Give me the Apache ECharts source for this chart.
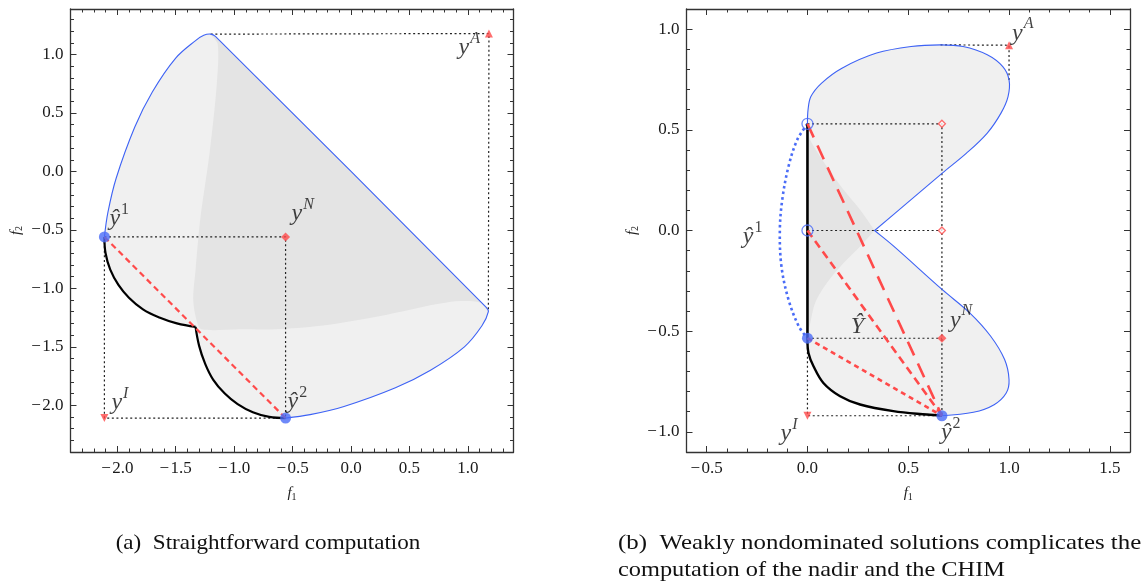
<!DOCTYPE html>
<html>
<head>
<meta charset="utf-8">
<script src="https://cdn.jsdelivr.net/npm/echarts@6/dist/echarts.min.js"></script>
<style>
html,body{margin:0;padding:0;background:#fff;}
#chart{width:1143px;height:588px;}
</style>
</head>
<body>
<div id="chart"></div>
<script>
// ---------------- DATA ----------------
// Tick values
const leftMajorTicks = [-2.0, -1.5, -1.0, -0.5, 0.0, 0.5, 1.0];
const leftMinorTicks = [-2.4,-2.3,-2.2,-2.1,-2.0,-1.9,-1.8,-1.7,-1.6,-1.5,-1.4,-1.3,-1.2,-1.1,-1.0,-0.9,-0.8,-0.7,-0.6,-0.5,-0.4,-0.3,-0.2,-0.1,0.0,0.1,0.2,0.3,0.4,0.5,0.6,0.7,0.8,0.9,1.0,1.1,1.2,1.3];
const rightXMajorTicks = [-0.5, 0.0, 0.5, 1.0, 1.5];
const rightXMinorTicks = [-0.6,-0.5,-0.4,-0.3,-0.2,-0.1,0.0,0.1,0.2,0.3,0.4,0.5,0.6,0.7,0.8,0.9,1.0,1.1,1.2,1.3,1.4,1.5,1.6];
const rightYMajorTicks = [-1.0, -0.5, 0.0, 0.5, 1.0];
const rightYMinorTicks = [-1.1,-1.0,-0.9,-0.8,-0.7,-0.6,-0.5,-0.4,-0.3,-0.2,-0.1,0.0,0.1,0.2,0.3,0.4,0.5,0.6,0.7,0.8,0.9,1.0,1.1];

// (a) Straightforward computation
const aHat1 = [-2.11, -0.56];
const aHat2 = [-0.56, -2.11];
const aNadir = [-0.56, -0.56];
const aIdeal = [-2.11, -2.11];
const aAnti = [1.18, 1.18];
const aPeak = [-1.20, 1.175];
const aRightmost = [1.175, -1.20];
const aOuterBoundary = [
  [-2.11,-0.56],[-2.08,-0.35],[-2.01,-0.06],[-1.85,0.38],[-1.70,0.68],[-1.50,0.97],
  [-1.33,1.12],[-1.26,1.165],[-1.20,1.175],[-1.16,1.155],
  [1.155,-1.16],[1.175,-1.20],[1.12,-1.32],[0.97,-1.50],[0.68,-1.70],[0.38,-1.85],
  [-0.06,-2.01],[-0.35,-2.08],[-0.56,-2.11]
];
const aFrontArc1 = [[-2.11,-0.56],[-2.10,-0.70],[-2.06,-0.84],[-1.99,-0.97],[-1.90,-1.08],[-1.78,-1.18],[-1.64,-1.25],[-1.49,-1.30],[-1.33,-1.33]];
const aFrontArc2 = [[-1.33,-1.33],[-1.30,-1.49],[-1.25,-1.64],[-1.18,-1.78],[-1.08,-1.90],[-0.97,-1.99],[-0.84,-2.06],[-0.70,-2.10],[-0.56,-2.11]];
const aDarkRegion = [
  [-1.20,1.175],[-1.14,1.09],[-1.15,0.73],[-1.21,0.16],[-1.29,-0.41],[-1.33,-0.84],[-1.35,-1.10],
  [-1.32,-1.28],[-1.28,-1.35],[-0.95,-1.35],[-0.65,-1.35],[-0.26,-1.32],[0.23,-1.24],[0.82,-1.12],
  [1.10,-1.12],[1.175,-1.20],[1.155,-1.16],[-1.16,1.155]
];

// (b) Weakly nondominated solutions
const bHat1 = [0, -0.535];
const bHat2 = [0.667, -0.92];
const bNadir = [0.667, -0.535];
const bIdeal = [0, -0.92];
const bAnti = [1.0, 0.92];
const bWeakTop = [0, 0.53];
const bWeakMid = [0, 0];
const bPseudoNadirTop = [0.667, 0.53];
const bPseudoNadirMid = [0.667, 0];
const bTopmost = [0.66, 0.922];
const bRightmostUpper = [1.0, 0.748];
const bOuterBoundary = [
  [0,0.53],[0.003,0.60],[0.017,0.665],[0.069,0.731],[0.171,0.806],[0.343,0.881],[0.514,0.914],
  [0.66,0.922],[0.772,0.914],[0.892,0.873],[0.969,0.814],[1.0,0.748],[0.995,0.665],[0.96,0.583],
  [0.892,0.484],[0.789,0.384],[0.669,0.285],[0.514,0.153],[0.333,0],[0.333,0],
  [0.429,-0.079],[0.669,-0.294],[0.806,-0.41],[0.909,-0.525],[0.978,-0.641],[1.0,-0.741],
  [0.986,-0.807],[0.926,-0.865],[0.823,-0.903],[0.667,-0.92]
];
const bFrontCurve = [[0,-0.535],[0.005,-0.608],[0.030,-0.674],[0.079,-0.757],[0.162,-0.823],[0.261,-0.864],[0.426,-0.897],[0.592,-0.914],[0.667,-0.92]];
const bWeakSegment = [[0,-0.535],[0,0.53]];
const bDottedArc = [[0,0.53],[-0.051,0.45],[-0.094,0.318],[-0.125,0.153],[-0.137,0],[-0.129,-0.178],[-0.094,-0.343],[-0.043,-0.476],[0,-0.535]];
const bDarkRegion = [
  [0,0.51],[0.013,0.451],[0.096,0.318],[0.179,0.202],[0.261,0.103],[0.333,0],[0.333,0],
  [0.261,-0.079],[0.179,-0.161],[0.096,-0.261],[0.038,-0.36],[0.010,-0.476],[0,-0.50]
];

// ---------------- STYLE ----------------
const FONT = "'Liberation Serif', 'Times New Roman', serif";
const RED = '#ff4a4a';
const BLUE = '#4a6cf7';
const LINE_BLUE = '#3d62f5';
const LIGHT = '#f0f0f0';
const DARK = '#e4e4e4';

function fmt(v){
  const s = (Math.round(v*10)/10).toFixed(1);
  return s.charAt(0) === '-' ? '\u2212\u200A' + s.slice(1) : s;
}

function makeAxes(dim, grid, min, max, major, minor, nameIdx){
  const isX = dim === 'x';
  const pos = isX ? ['bottom','top'] : ['left','right'];
  const common = {type:'value', gridIndex:grid, min:min, max:max, splitLine:{show:false}, splitArea:{show:false}};
  const frame = {color:'#333', width:1.3};
  const tickStyle = {color:'#333', width:1};
  return [
    Object.assign({}, common, {
      position:pos[0],
      axisLine:{show:true, onZero:false, lineStyle:frame},
      axisTick:{show:true, inside:true, length:6, customValues:major, lineStyle:tickStyle},
      axisLabel:{show:true, customValues:major, formatter:fmt, fontFamily:FONT, fontSize:17, color:'#1a1a1a', margin:isX?8:7},
      name:'{f|f}{s|' + nameIdx + '}',
      nameLocation:'middle', nameGap:isX?33:46, nameRotate:isX?0:90,
      nameTextStyle:{rich:{
        f:{fontFamily:FONT, fontStyle:'italic', fontSize:15, color:'#222'},
        s:{fontFamily:FONT, fontSize:10, color:'#222', padding:[7,0,0,0]}
      }}
    }),
    Object.assign({}, common, {
      position:pos[0],
      axisLine:{show:false, onZero:false},
      axisTick:{show:true, inside:true, length:3.5, customValues:minor, lineStyle:tickStyle},
      axisLabel:{show:false}
    }),
    Object.assign({}, common, {
      position:pos[1],
      axisLine:{show:true, onZero:false, lineStyle:frame},
      axisTick:{show:true, inside:true, length:6, customValues:major, lineStyle:tickStyle},
      axisLabel:{show:false}
    }),
    Object.assign({}, common, {
      position:pos[1],
      axisLine:{show:false, onZero:false},
      axisTick:{show:true, inside:true, length:3.5, customValues:minor, lineStyle:tickStyle},
      axisLabel:{show:false}
    })
  ];
}

const series = [];
function addPath(g, pts, style, closed, smooth){
  series.push({
    type:'custom', coordinateSystem:'cartesian2d',
    xAxisIndex:g*4, yAxisIndex:g*4, silent:true,
    data:[pts[0]],
    renderItem:function(params, api){
      return {
        type: closed ? 'polygon' : 'polyline',
        shape:{points: pts.map(function(q){return api.coord(q);}), smooth: smooth || 0},
        style: Object.assign(closed ? {stroke:'none'} : {fill:'none'}, style)
      };
    }
  });
}

const DOT = {stroke:'#222', lineWidth:1.2, lineDash:[2,2.6]};

// ---- (a) ----
addPath(0, aOuterBoundary.concat(aFrontArc2.slice().reverse(), aFrontArc1.slice().reverse()), {fill:LIGHT}, true, 0.35);
addPath(0, aDarkRegion, {fill:DARK}, true, 0.3);
addPath(0, [aHat1, aNadir, aHat2], DOT, false, 0);
addPath(0, [aHat1, aIdeal, aHat2], DOT, false, 0);
addPath(0, [aPeak, aAnti, aRightmost], DOT, false, 0);
addPath(0, aOuterBoundary, {stroke:LINE_BLUE, lineWidth:1.1}, false, 0.35);
addPath(0, aFrontArc1, {stroke:'#000', lineWidth:2.2}, false, 0.4);
addPath(0, aFrontArc2, {stroke:'#000', lineWidth:2.2}, false, 0.4);
addPath(0, [aHat1, aHat2], {stroke:RED, lineWidth:2.2, lineDash:[6,4]}, false, 0);

// ---- (b) ----
addPath(1, bOuterBoundary.concat(bFrontCurve.slice().reverse()), {fill:LIGHT}, true, 0.35);
addPath(1, bDarkRegion, {fill:DARK}, true, 0.3);
addPath(1, [bWeakTop, bPseudoNadirTop, bHat2], DOT, false, 0);
addPath(1, [bWeakMid, bPseudoNadirMid], DOT, false, 0);
addPath(1, [bHat1, bNadir], DOT, false, 0);
addPath(1, [bHat1, bIdeal, bHat2], DOT, false, 0);
addPath(1, [bTopmost, bAnti, bRightmostUpper], DOT, false, 0);
addPath(1, bOuterBoundary, {stroke:LINE_BLUE, lineWidth:1.1}, false, 0.35);
addPath(1, bDottedArc, {stroke:BLUE, lineWidth:2.6, lineDash:[2.6,3]}, false, 0.35);
addPath(1, bFrontCurve, {stroke:'#000', lineWidth:2.4}, false, 0.35);
addPath(1, bWeakSegment, {stroke:'#000', lineWidth:2.6}, false, 0);
addPath(1, [bWeakTop, bHat2], {stroke:RED, lineWidth:2.6, lineDash:[15,9]}, false, 0);
addPath(1, [bWeakMid, bHat2], {stroke:RED, lineWidth:2.6, lineDash:[8,5]}, false, 0);
addPath(1, [bHat1, bHat2], {stroke:RED, lineWidth:2.6, lineDash:[5,4]}, false, 0);

// ---- markers & labels ----
const rich = {
  m:{fontFamily:FONT, fontStyle:'italic', fontSize:24, color:'#111'},
  u:{fontFamily:FONT, fontSize:16, color:'#111', padding:[0,0,18,1]},
  i:{fontFamily:FONT, fontStyle:'italic', fontSize:16, color:'#111', padding:[0,0,18,1]}
};
function lbl(text, align, dx, dy){
  return {show:true, position:'inside', align:align, verticalAlign:'middle', offset:[dx,dy], formatter:text, rich:rich};
}
function pt(v, symbol, size, color, border, label, rotate){
  const item = {value:v, symbol:symbol, symbolSize:size, symbolRotate:rotate||0,
    itemStyle:{color:color, borderColor:border||color, borderWidth:border?1.3:0}};
  if (label) item.label = label; else item.label = {show:false};
  return item;
}
series.push({
  type:'scatter', xAxisIndex:0, yAxisIndex:0, silent:true, z:5,
  data:[
    pt(aHat1, 'circle', 11, BLUE, null, lbl('{m|ŷ}{u|1}', 'left', 5, -18)),
    pt(aHat2, 'circle', 11, BLUE, null, lbl('{m|ŷ}{u|2}', 'left', 2, -16)),
    pt(aNadir, 'diamond', 9, RED, null, lbl('{m|y}{i|N}', 'left', 6, -23)),
    pt(aIdeal, 'triangle', 8, RED, null, lbl('{m|y}{i|I}', 'left', 7, -15), 180),
    pt(aAnti, 'triangle', 8, RED, null, lbl('{m|y}{i|A}', 'right', -9, 14)),
    pt(aFrontArc1[aFrontArc1.length-1], 'none', 0, 'transparent', null, lbl('{m|Ŷ}', 'center', 15, -23))
  ]
});
series.push({
  type:'scatter', xAxisIndex:4, yAxisIndex:4, silent:true, z:5,
  data:[
    pt(bHat1, 'circle', 11, BLUE, null, lbl('{m|Ŷ}', 'center', 50, -12)),
    pt(bHat2, 'circle', 11, BLUE, null, lbl('{m|ŷ}{u|2}', 'left', -1, 17)),
    pt(bWeakTop, 'circle', 11, 'rgba(0,0,0,0)', BLUE),
    pt(bWeakMid, 'circle', 11, 'rgba(0,0,0,0)', BLUE, lbl('{m|ŷ}{u|1}', 'right', -45, 6)),
    pt(bNadir, 'diamond', 9, RED, null, lbl('{m|y}{i|N}', 'left', 8, -18)),
    pt(bPseudoNadirTop, 'diamond', 7, '#fff', RED),
    pt(bPseudoNadirMid, 'diamond', 7, '#fff', RED),
    pt(bIdeal, 'triangle', 8, RED, null, lbl('{m|y}{i|I}', 'right', -10, 18), 180),
    pt(bAnti, 'triangle', 8, RED, null, lbl('{m|y}{i|A}', 'left', 3, -12))
  ]
});

const xAxes = makeAxes('x', 0, -2.4, 1.39, leftMajorTicks, leftMinorTicks, 1)
  .concat(makeAxes('x', 1, -0.6, 1.6, rightXMajorTicks, rightXMinorTicks, 1));
const yAxes = makeAxes('y', 0, -2.4, 1.39, leftMajorTicks, leftMinorTicks, 2)
  .concat(makeAxes('y', 1, -1.1, 1.1, rightYMajorTicks, rightYMinorTicks, 2));

const capFont = '21px ' + FONT;
const chart = echarts.init(document.getElementById('chart'), null, {renderer:'canvas'});
chart.setOption({
  animation:false,
  backgroundColor:'#fff',
  grid:[
    {left:70.5, top:9, width:443, height:443},
    {left:686.5, top:9, width:443.5, height:443}
  ],
  xAxis:xAxes,
  yAxis:yAxes,
  series:series,
  graphic:[
    {type:'text', x:268, y:543, scaleX:1.1, silent:true, style:{text:'(a)  Straightforward computation', font:capFont, fill:'#111', align:'center', verticalAlign:'middle'}},
    {type:'text', x:618, y:543, scaleX:1.185, silent:true, style:{text:'(b)  Weakly nondominated solutions complicates the', font:capFont, fill:'#111', align:'left', verticalAlign:'middle'}},
    {type:'text', x:618, y:570, scaleX:1.16, silent:true, style:{text:'computation of the nadir and the CHIM', font:capFont, fill:'#111', align:'left', verticalAlign:'middle'}}
  ]
});
</script>
</body>
</html>
